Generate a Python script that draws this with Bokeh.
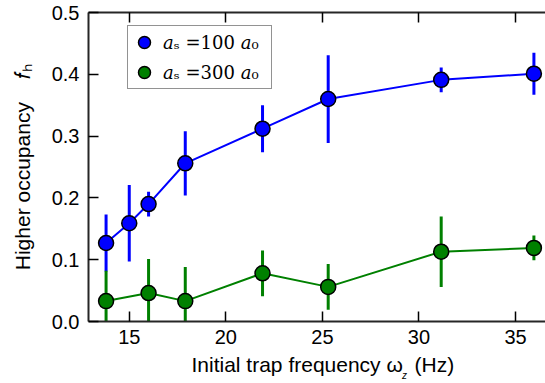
from bokeh.plotting import figure
from bokeh.models import Legend, LegendItem, LinearAxis, Range1d, FixedTicker, ColumnDataSource
from bokeh.embed import file_html
from bokeh.resources import INLINE

# ---- data ----
freq_100 = [13.8, 15.0, 16.0, 17.9, 21.9, 25.3, 31.15, 35.95]
fh_100 = [0.127, 0.159, 0.190, 0.256, 0.312, 0.360, 0.391, 0.401]
err_100 = [0.046, 0.062, 0.020, 0.052, 0.038, 0.071, 0.020, 0.034]

freq_300 = [13.8, 16.0, 17.9, 21.9, 25.3, 31.15, 35.95]
fh_300 = [0.033, 0.046, 0.033, 0.078, 0.056, 0.113, 0.119]
err_300 = [0.049, 0.055, 0.055, 0.037, 0.037, 0.057, 0.020]

x_ticks = [15, 20, 25, 30, 35]
y_ticks = [0.0, 0.1, 0.2, 0.3, 0.4, 0.5]
y_tick_labels = ["0.0", "0.1", "0.2", "0.3", "0.4", "0.5"]

NB = "\u00A0"
label_100 = "\U0001D44E\u209B" + NB + "=100" + NB + "\U0001D44E\u2080" + NB * 2
label_300 = "\U0001D44E\u209B" + NB + "=300" + NB + "\U0001D44E\u2080" + NB * 2
x_label = NB * 2 + "Initial trap frequency \u03C9" + NB * 2 + "(Hz)"
x_label_sub = "z"
y_label = "Higher occupancy" + NB * 4 + "\U0001D453\u2095"

# layout constant: horizontal spot (in axis units) of the subscript under the omega
SUB_POS = 29.25

BLUE = "#0000ff"
GREEN = "#008000"
FONT = "Liberation Sans"


def build_source(x, y, e):
    return ColumnDataSource(dict(
        x=x, y=y,
        lo=[v - d for v, d in zip(y, e)],
        hi=[v + d for v, d in zip(y, e)],
    ))


src_100 = build_source(freq_100, fh_100, err_100)
src_300 = build_source(freq_300, fh_300, err_300)

p = figure(width=545, height=383, output_backend="svg", toolbar_location=None,
           x_range=Range1d(12.89, 36.55), y_range=Range1d(0, 0.5),
           min_border_left=88, min_border_right=0, min_border_top=12, min_border_bottom=62)
p.outline_line_color = None
p.xgrid.visible = False
p.ygrid.visible = False
p.background_fill_color = "white"
p.border_fill_color = "white"

renderers = {}
for name, src, col in (("100", src_100, BLUE), ("300", src_300, GREEN)):
    p.line("x", "y", source=src, line_color=col, line_width=2)
    p.segment(x0="x", y0="lo", x1="x", y1="hi", source=src, line_color=col, line_width=3)
    renderers[name] = p.scatter("x", "y", source=src, size=15, fill_color=col,
                                line_color="black", line_width=1.5, marker="circle")

# axes styling
for ax in (p.xaxis[0], p.yaxis[0]):
    ax.major_tick_in = 10
    ax.major_tick_out = 0
    ax.minor_tick_line_color = None
    ax.axis_line_color = "#262626"
    ax.axis_line_width = 2
    ax.major_tick_line_color = "black"
    ax.major_tick_line_width = 1.5
    ax.major_label_text_font = FONT
    ax.major_label_text_font_size = "20px"
    ax.major_label_text_color = "black"
    ax.axis_label_text_font = FONT
    ax.axis_label_text_font_size = "21px"
    ax.axis_label_text_font_style = "normal"
    ax.axis_label_text_color = "black"
    ax.major_label_standoff = 8

p.xaxis.ticker = FixedTicker(ticks=x_ticks)
p.yaxis.ticker = FixedTicker(ticks=y_ticks)
p.yaxis.major_label_overrides = {t: s for t, s in zip(y_ticks, y_tick_labels)}
p.xaxis.axis_label = x_label
p.yaxis.axis_label = y_label
p.xaxis.axis_label_standoff = 6
p.yaxis.axis_label_standoff = 15
p.yaxis.major_label_standoff = 9

top = LinearAxis(ticker=FixedTicker(ticks=x_ticks), major_tick_in=10, major_tick_out=0,
                 minor_tick_line_color=None, axis_line_color="#262626", axis_line_width=2,
                 major_tick_line_color="black", major_tick_line_width=1.5,
                 major_label_text_color=None, major_label_text_font_size="1px",
                 major_label_standoff=0)
p.add_layout(top, "above")

# subscript "z" of omega_z, drawn as the only label of a bare axis under the x label
sub_axis = LinearAxis(ticker=FixedTicker(ticks=[SUB_POS]),
                      major_label_overrides={SUB_POS: x_label_sub},
                      axis_line_color=None, major_tick_line_color=None,
                      minor_tick_line_color=None, major_tick_in=0, major_tick_out=0,
                      major_label_text_font=FONT, major_label_text_font_size="10px",
                      major_label_text_font_style="italic", major_label_text_color="black",
                      major_label_standoff=-9)
p.add_layout(sub_axis, "below")

legend = Legend(items=[LegendItem(label=label_100, renderers=[renderers["100"]]),
                       LegendItem(label=label_300, renderers=[renderers["300"]])],
                location=(39, 232), orientation="vertical",
                glyph_width=30, glyph_height=30, label_height=28, spacing=0, padding=1,
                label_standoff=4, label_text_font="DejaVu Serif",
                label_text_font_size="18px", label_text_color="black",
                border_line_color="#262626", border_line_width=1.5,
                background_fill_alpha=1.0, margin=0)
p.add_layout(legend)

open("out.html", "w").write(file_html(p, INLINE))
